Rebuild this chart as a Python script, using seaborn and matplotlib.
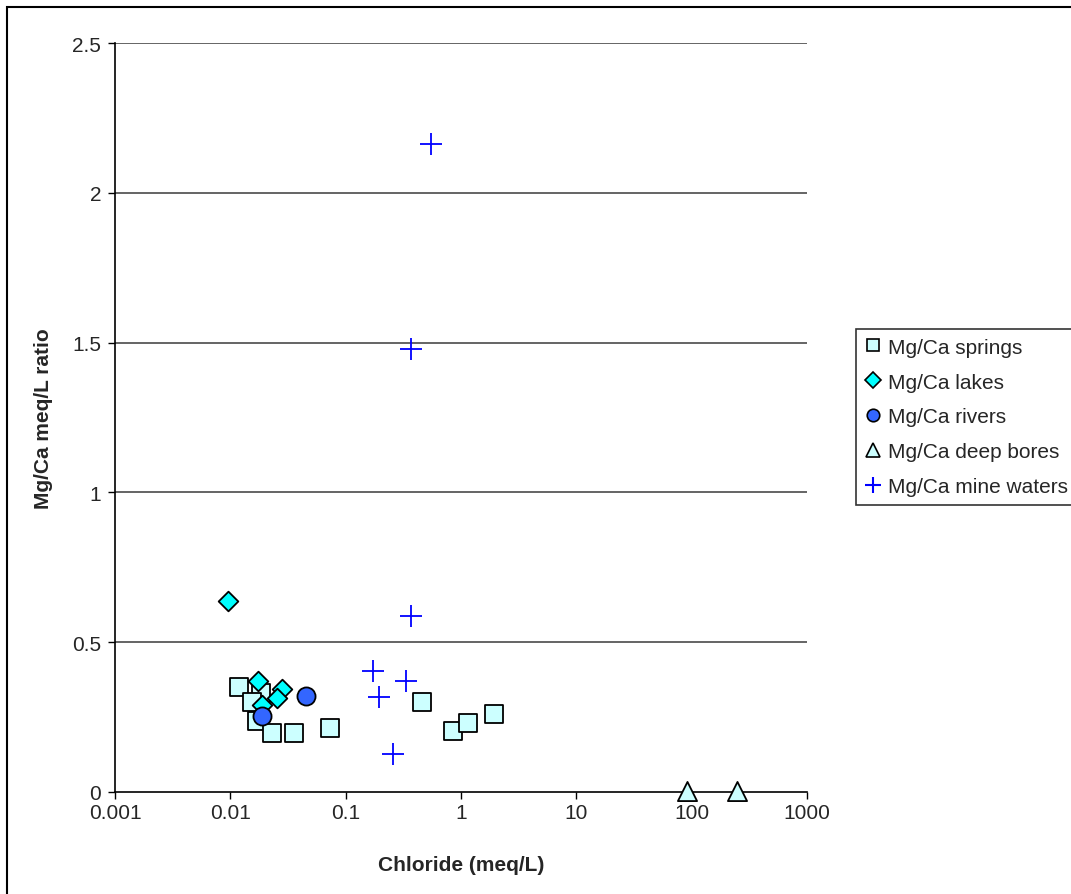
import matplotlib
matplotlib.use("Agg")
import matplotlib.pyplot as plt
import seaborn as sns
import pandas as pd
from matplotlib.lines import Line2D
from matplotlib.patches import Rectangle

# ---- data ----
springs_cl = [0.0118, 0.0185, 0.0154, 0.0171, 0.0231, 0.0357, 0.0728, 0.460, 0.849, 1.14, 1.95]
springs_r = [0.349, 0.330, 0.299, 0.237, 0.198, 0.198, 0.215, 0.299, 0.204, 0.231, 0.259]

lakes_cl = [0.0095, 0.0173, 0.0279, 0.0252, 0.0187]
lakes_r = [0.638, 0.369, 0.344, 0.313, 0.290]

rivers_cl = [0.0454, 0.0190]
rivers_r = [0.321, 0.255]

bores_cl = [91.4, 248.0]
bores_r = [0.005, 0.005]

mine_cl = [0.551, 0.369, 0.369, 0.172, 0.336, 0.196, 0.256]
mine_r = [2.163, 1.480, 0.587, 0.403, 0.369, 0.318, 0.128]

labels = ["Mg/Ca springs", "Mg/Ca lakes", "Mg/Ca rivers", "Mg/Ca deep bores", "Mg/Ca mine waters"]
x_ticks = [0.001, 0.01, 0.1, 1, 10, 100, 1000]
x_tick_labels = ["0.001", "0.01", "0.1", "1", "10", "100", "1000"]
y_ticks = [0, 0.5, 1, 1.5, 2, 2.5]
y_tick_labels = ["0", "0.5", "1", "1.5", "2", "2.5"]

sns.set_style("white")
plt.rcParams["font.family"] = ["Liberation Sans", "DejaVu Sans"]

fig = plt.figure(figsize=(10.71, 8.95), dpi=100)
ax = fig.add_axes([115 / 1071, 1 - 793 / 895, (807 - 115) / 1071, (793 - 44) / 895])

styles = [
    dict(marker="s", color="#CCFFFF", edgecolor="black", s=150, linewidth=1.3),
    dict(marker="D", color="#00FFFF", edgecolor="black", s=100, linewidth=1.3),
    dict(marker="o", color="#3366FF", edgecolor="black", s=170, linewidth=1.3),
    dict(marker="^", color="#CCFFFF", edgecolor="black", s=190, linewidth=1.3),
    dict(marker="+", color="#0000FF", s=240, linewidth=1.3),
]
series = [(springs_cl, springs_r), (lakes_cl, lakes_r), (rivers_cl, rivers_r),
          (bores_cl, bores_r), (mine_cl, mine_r)]

# gridlines
for yv in y_ticks[1:]:
    ax.axhline(yv, color="#3a3a3a", lw=1.1, zorder=0)

for (xs, ys), st, lab in zip(series, styles, labels):
    df = pd.DataFrame({"Chloride": xs, "ratio": ys})
    sns.scatterplot(data=df, x="Chloride", y="ratio", ax=ax, zorder=3, clip_on=False, **st)

ax.set_xscale("log")
ax.set_xlim(0.001, 1000)
ax.set_ylim(0, 2.5)
ax.set_xticks(x_ticks)
ax.set_xticklabels(x_tick_labels)
ax.set_yticks(y_ticks)
ax.set_yticklabels(y_tick_labels)
ax.minorticks_off()
ax.tick_params(axis="both", direction="out", length=5, width=1, color="black",
               labelsize=15, pad=5, bottom=True, left=True)
ax.tick_params(axis="x", pad=3)
for side in ["top", "right"]:
    ax.spines[side].set_visible(False)
for side in ["left", "bottom"]:
    ax.spines[side].set_color("black")
    ax.spines[side].set_linewidth(1.2)

ax.set_xlabel("Chloride (meq/L)", fontsize=15, fontweight="bold", labelpad=24)
ax.set_ylabel("Mg/Ca meq/L ratio", fontsize=15, fontweight="bold", labelpad=14)

# legend
handles = [
    Line2D([], [], ls="none", marker="s", markerfacecolor="#CCFFFF", markeredgecolor="black", markersize=9, markeredgewidth=1.2),
    Line2D([], [], ls="none", marker="D", markerfacecolor="#00FFFF", markeredgecolor="black", markersize=8, markeredgewidth=1.2),
    Line2D([], [], ls="none", marker="o", markerfacecolor="#3366FF", markeredgecolor="black", markersize=9, markeredgewidth=1.2),
    Line2D([], [], ls="none", marker="^", markerfacecolor="#CCFFFF", markeredgecolor="black", markersize=10, markeredgewidth=1.2),
    Line2D([], [], ls="none", marker="+", color="#0000FF", markersize=12, markeredgewidth=1.5),
]
leg = fig.legend(handles, labels, loc="upper left", bbox_to_anchor=(856 / 1071, 1 - 330 / 895),
                 frameon=True, fancybox=False, fontsize=15, handlelength=0.8, handletextpad=0.3,
                 labelspacing=0.76, borderpad=0.42, borderaxespad=0, edgecolor="black")
leg.get_frame().set_linewidth(1.2)

# outer chart border
fig.patches.append(Rectangle((7 / 1071, -0.05), 1.2, 1 - 8 / 895 + 0.05, transform=fig.transFigure,
                             fill=False, edgecolor="black", lw=1.5, zorder=10))

fig.savefig("out.png", dpi=100)
